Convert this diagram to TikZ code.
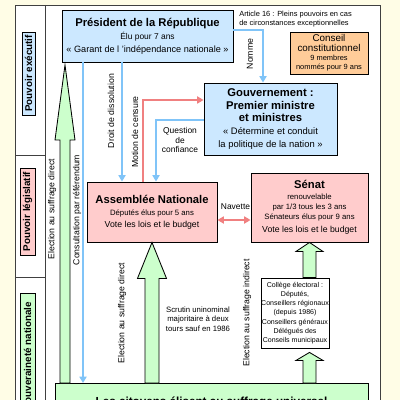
\documentclass[tikz,border=0pt]{standalone}
\usepackage{fontspec}
\setmainfont{Liberation Sans}
\usetikzlibrary{arrows.meta,calc}

\definecolor{creme}{RGB}{255,253,230}
\definecolor{bleuclair}{RGB}{204,232,255}
\definecolor{roseclair}{RGB}{255,204,204}
\definecolor{vertclair}{RGB}{204,255,204}
\definecolor{orangeclair}{RGB}{255,204,153}
\definecolor{filbleu}{RGB}{128,196,248}
\definecolor{filrouge}{RGB}{240,128,128}

\newcommand{\fsz}[2]{\fontsize{#1}{#2}\selectfont}
\newcommand{\titre}[1]{{\fsz{8}{9}\bfseries #1}}
% grosse fleche verte : pointe, base, demi-fut, demi-tete, longueur tete
\newcommand{\montee}[5]{%
  \draw[grosse] (#1) -- ++(#4,#5) -- ++(#3-#4,0) -- ($(#1|-#2)+(#3,0)$)
    -- ($(#1|-#2)+(-#3,0)$) -- ($(#1)+(-#3,#5)$) -- ++(#3-#4,0) -- cycle;}

\begin{document}
\begin{tikzpicture}[x=0.025cm, y=-0.025cm,
  boite/.style={draw=black, line width=0.6pt, inner sep=0pt, align=center},
  fleche/.style={line width=1.1pt, -{Triangle[length=4.5pt,width=5pt]}},
  bleu/.style={fleche, draw=filbleu},
  rouge/.style={fleche, draw=filrouge},
  legende/.style={font=\fsz{6.2}{7}, inner sep=0pt},
  vertical/.style={legende, rotate=90},
  pouvoir/.style={boite, rotate=90, font=\fsz{7}{8}\bfseries},
  grosse/.style={draw=black, line width=0.6pt, fill=vertclair}]

\useasboundingbox (0,0) rectangle (400,400);
\clip (0,0) rectangle (400,400);
\fill[creme] (0,0) rectangle (400,400);

% cadre et colonne des pouvoirs
\draw[line width=0.5pt, draw=black!75, fill=white] (15,5) rectangle (380,430);
\draw[line width=0.5pt, draw=black!75] (45,5) -- (45,430) (15,155) -- (45,155) (15,277) -- (45,277);
\node[pouvoir, fill=bleuclair, minimum width=2.075cm, minimum height=0.325cm] (executif) at (28.5,73.5) {Pouvoir exécutif};
\node[pouvoir, fill=roseclair, minimum width=2.175cm, minimum height=0.375cm] (legislatif) at (27.5,211.5) {Pouvoir législatif};
\node[pouvoir, fill=vertclair, minimum width=3.15cm, minimum height=0.375cm] (souverainete) at (27.5,356) {Souveraineté nationale};

% institutions
\node[boite, fill=bleuclair, minimum width=4.275cm, minimum height=1.3cm, font=\fsz{6.5}{9.2}] (president) at (147.5,36)
  {\titre{Président de la République}\\{\fsz{6}{9}Élu pour 7 ans}\\« Garant de l 'indépendance nationale »};
\node[legende, font=\fsz{5.3}{5.8}, align=left, anchor=west] (article) at (239,19)
  {Article 16 : Pleins pouvoirs en cas\\de circonstances exceptionnelles};
\node[boite, fill=orangeclair, minimum width=1.95cm, minimum height=1.05cm, font=\fsz{5.3}{6.6}] (conseil) at (329,53)
  {{\fsz{7}{8}Conseil}\\{\fsz{7}{8}constitutionnel}\\9 membres\\nommés pour 9 ans};
\node[boite, fill=bleuclair, minimum width=3.325cm, minimum height=1.8cm, font=\fsz{6.7}{9.2}] (gouvernement) at (270.5,119)
  {\titre{Gouvernement :}\\\titre{Premier ministre}\\\titre{et ministres}\\« Détermine et conduit\\la politique de la nation »};
\node[boite, fill=roseclair, minimum width=3.25cm, minimum height=1.5cm, font=\fsz{6.2}{8.5}] (assemblee) at (152,212)
  {\titre{Assemblée Nationale}\\{\fsz{5.5}{8}Députés élus pour 5 ans}\\Vote les lois et le budget};
\node[boite, fill=roseclair, minimum width=2.925cm, minimum height=1.725cm, font=\fsz{5.5}{7.3}] (senat) at (309.5,207.5)
  {\titre{Sénat}\\renouvelable\\par 1/3 tous les 3 ans\\Sénateurs élus pour 9 ans\\[2pt]{\fsz{6.2}{8}Vote les lois et le budget}};
\node[boite, fill=white, minimum width=1.7cm, minimum height=1.75cm, font=\fsz{5}{6.6}] (college) at (295,313)
  {Collège électoral :\\Députés,\\Conseillers régionaux\\(depuis 1986)\\Conseillers généraux\\Délégués des\\Conseils municipaux};
\node[boite, fill=vertclair, minimum width=7.825cm, anchor=north, inner ysep=0.33cm, font=\fsz{8.3}{9}\bfseries] (citoyens) at (211.5,383)
  {Les citoyens élisent au suffrage universel};

% grosses fleches
\coordinate (pointe) at (65,65);
\coordinate (pointecollege) at ($(senat.south |- college.south)+(0,4)$);
\montee{pointe}{citoyens.north}{5}{10}{75}
\montee{assemblee.south}{citoyens.north}{7}{14.5}{36}
\montee{senat.south}{college.north}{6.5}{13.5}{9}
\montee{pointecollege}{citoyens.north}{6.5}{13.5}{8}

% liaisons
\draw[bleu] (83,0 |- president.south) -- (83,0 |- citoyens.north);
\draw[bleu] (122,0 |- president.south) -- (122,0 |- assemblee.north);
\draw[bleu] (president.east |- 0,30) -| (263,0 |- gouvernement.north);
\draw[bleu] (gouvernement.west |- 0,120) -| (156,0 |- assemblee.north);
\draw[rouge] (143,0 |- assemblee.north) |- (gouvernement.west |- 0,100);
\draw[rouge, {Triangle[length=4.5pt,width=5pt]}-{Triangle[length=4.5pt,width=5pt]}] (assemblee.east |- 0,220) -- (senat.west |- 0,220);

% textes des liaisons
\node[vertical] (electionpres) at (52,209) {Election au suffrage direct};
\node[vertical] (referendum) at (77,210) {Consultation par référendum};
\node[vertical] (dissolution) at (111,111) {Droit de dissolution};
\node[vertical] (censure) at (135,132) {Motion de censure};
\node[vertical] (nomme) at (250,54) {Nomme};
\node[legende, align=center, font=\fsz{6}{6.8}] (confiance) at (180,140) {Question\\de\\confiance};
\node[legende, font=\fsz{6}{7}] (navette) at (235.5,207) {Navette};
\node[vertical] (electiondep) at (122,313) {Election au suffrage direct};
\node[legende, align=center, font=\fsz{5.5}{6.8}] (scrutin) at (198,319) {Scrutin uninominal\\majoritaire à deux\\tours sauf en 1986};
\node[vertical] (electionsen) at (247,313) {Election au suffrage indirect};
\end{tikzpicture}
\end{document}
